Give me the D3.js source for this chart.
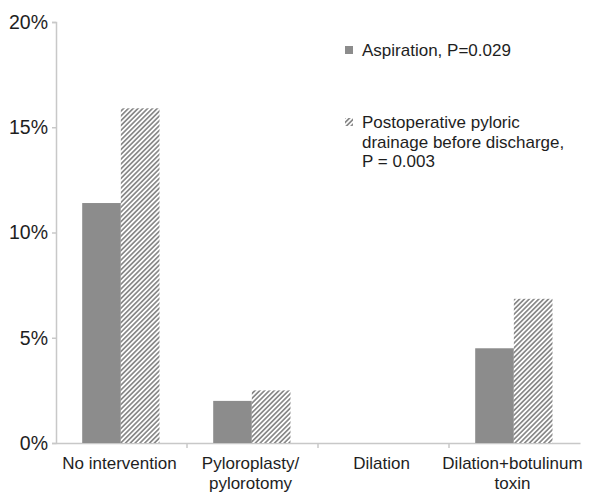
<!DOCTYPE html>
<html>
    <head>
        <script src="https://d3js.org/d3.v7.min.js"></script>
        <style>
            body { margin: 0; background: #fff; }
            text { font-family: "Liberation Sans", Arial, sans-serif; fill: #1e1e1e; }
        </style>
    </head>
    <body>
        <div class="graph"></div>
        <script>
            const categories = [['No intervention'], ['Pyloroplasty/', 'pylorotomy'], ['Dilation'], ['Dilation+botulinum', 'toxin']];
            const aspiration = [11.4, 2.0, 0, 4.5];
            const drainage = [15.9, 2.5, 0, 6.85];
            const yTicks = [0, 5, 10, 15, 20];
            const legendLabels = [['Aspiration, P=0.029'], ['Postoperative pyloric', 'drainage before discharge,', 'P = 0.003']];

            const width = 600, height = 500;

            const x = d3.scaleBand()
                .domain(d3.range(categories.length))
                .range([56, 580])
                .paddingInner(0)
                .paddingOuter(0);

            const inner = d3.scaleBand()
                .domain(['a', 'd'])
                .range([x.bandwidth() * 0.2, x.bandwidth() * 0.79]);

            const y = d3.scaleLinear()
                .domain([0, 20])
                .range([443, 22]);

            const svg = d3.select('.graph').append('svg')
                .attr('width', width)
                .attr('height', height);

            // hatch pattern for the second series
            const pat = svg.append('defs').append('pattern')
                .attr('id', 'hatch')
                .attr('patternUnits', 'userSpaceOnUse')
                .attr('width', 3.4)
                .attr('height', 3.4)
                .attr('patternTransform', 'rotate(45)');
            pat.append('rect').attr('width', 3.4).attr('height', 3.4).attr('fill', '#fff');
            pat.append('rect').attr('width', 1.7).attr('height', 3.4).attr('fill', '#8a8a8a');

            // axes
            const yAxis = svg.append('g')
                .attr('transform', 'translate(56,0)')
                .call(d3.axisLeft(y).tickValues(yTicks).tickFormat(d => d + '%').tickSize(4).tickPadding(4));
            yAxis.selectAll('line, path').attr('stroke', '#c8c8c8').attr('stroke-width', 1.5);
            yAxis.selectAll('text').style('font-size', '19.5px').attr('fill', '#1e1e1e');

            const xAxis = svg.append('g')
                .attr('transform', 'translate(0,443)')
                .call(d3.axisBottom(x).tickValues([]).tickSizeOuter(0));
            xAxis.select('path').attr('stroke', '#c8c8c8').attr('stroke-width', 1.5);
            xAxis.selectAll('.sep')
                .data(d3.range(1, categories.length))
                .enter().append('line')
                .attr('x1', d => x(d)).attr('x2', d => x(d))
                .attr('y1', 0).attr('y2', 5)
                .attr('stroke', '#c8c8c8').attr('stroke-width', 1.5);

            // category labels
            const labels = svg.append('g');
            categories.forEach((lines, i) => {
                const cx = x(i) + x.bandwidth() / 2 - 2;
                const t = labels.append('text')
                    .attr('x', cx)
                    .attr('y', 469)
                    .attr('text-anchor', 'middle')
                    .style('font-size', '17px');
                lines.forEach((l, j) => {
                    t.append('tspan').attr('x', cx).attr('dy', j ? 20 : 0).text(l);
                });
            });

            // bars
            svg.append('g').selectAll('rect')
                .data(aspiration)
                .enter().append('rect')
                .attr('x', (d, i) => x(i) + inner('a'))
                .attr('y', d => y(d))
                .attr('width', inner.bandwidth())
                .attr('height', d => y(0) - y(d))
                .attr('fill', '#8c8c8c');

            svg.append('g').selectAll('rect')
                .data(drainage)
                .enter().append('rect')
                .attr('x', (d, i) => x(i) + inner('d'))
                .attr('y', d => y(d))
                .attr('width', inner.bandwidth())
                .attr('height', d => y(0) - y(d))
                .attr('fill', 'url(#hatch)');

            // legend
            const legend = svg.append('g');
            const legY = [50, 122];
            legendLabels.forEach((lines, i) => {
                legend.append('rect')
                    .attr('x', 345).attr('y', legY[i] - 4)
                    .attr('width', 8).attr('height', 8)
                    .attr('fill', i ? 'url(#hatch)' : '#8c8c8c');
                const t = legend.append('text')
                    .attr('x', 362).attr('y', legY[i] + 6)
                    .style('font-size', '17px');
                lines.forEach((l, j) => {
                    t.append('tspan').attr('x', 362).attr('dy', j ? 19.5 : 0).text(l);
                });
            });
        </script>
    </body>
</html>
